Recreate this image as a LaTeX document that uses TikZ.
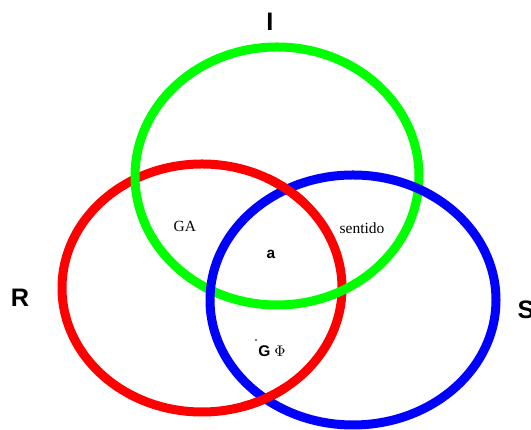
\documentclass[tikz,border=0pt]{standalone}
\usepackage{fontspec}
\setmainfont{Liberation Serif}
\newfontfamily\setsans{Liberation Sans}
\usepackage{tikz}
\usetikzlibrary{positioning}

\begin{document}
\begin{tikzpicture}[thick]

	\tikzset{
		ring/.style={
				line width=6.4pt
			},
		setname/.style={
				inner sep=0pt, font=\setsans\bfseries\fontsize{18}{18}\selectfont
			},
		region/.style={
				inner sep=0pt, font=\fontsize{11}{11}\selectfont
			},
	}

	\useasboundingbox (0,0) rectangle (13.275,10.75);

	% sets
	\draw[ring, red] (5.05,3.55) ellipse (3.5cm and 3.1cm);
	\draw[ring, green] (6.925,6.35) ellipse (3.55cm and 3.225cm);
	\draw[ring, blue] (8.825,3.25) ellipse (3.575cm and 3.125cm);
	\begin{scope}
		\clip (7.175,6.0) circle (0.6cm) (6.625,0.75) circle (0.6cm);
		\draw[ring, red] (5.05,3.55) ellipse (3.5cm and 3.1cm);
	\end{scope}

	\node[setname] (i) at (6.75,10.2) {I};
	\node[setname] (r) at (0.5,3.3) {R};
	\node[setname] (s) at (13.15,3.0) {S};

	\node[region] (ga) at (4.62,5.1) {GA};
	\node[region] (sentido) at (9.05,5.05) {sentido};
	\node[region, font=\setsans\bfseries\fontsize{11}{11}\selectfont] (a) at (6.77,4.38) {a};
	\node[region, font=\fontsize{11}{11}\selectfont] (gphi) at (6.8,1.98) {{\setsans\bfseries G} $\Phi$};
	\fill (6.4,2.25) circle (0.6pt);
\end{tikzpicture}
\end{document}
